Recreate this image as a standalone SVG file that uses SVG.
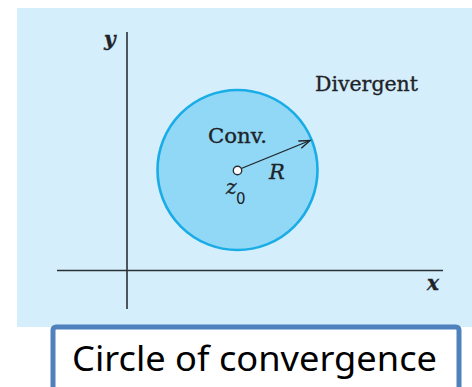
<svg xmlns="http://www.w3.org/2000/svg" width="472" height="387" viewBox="0 0 472 387">
<defs>
<style>
.ax{stroke:#2b3036;stroke-width:1.6;fill:none}
.lbl{font-family:"DejaVu Serif","Liberation Serif",serif;fill:#1e2328;stroke:#1e2328;stroke-width:0.35}
.it{font-style:italic}
</style>
<marker id="ah" markerWidth="14" markerHeight="10" refX="12" refY="5" orient="auto" markerUnits="userSpaceOnUse">
<polyline points="1,1 12,5 1,9" fill="none" stroke="#1e2328" stroke-width="1.4"/>
</marker>
</defs>
<rect width="472" height="387" fill="#ffffff"/>
<rect id="panel" x="17" y="8" width="455" height="319" fill="#d4eefb"/>
<g id="axes">
<line class="ax" x1="127" y1="32" x2="127" y2="309"/>
<line class="ax" x1="57" y1="270.5" x2="443" y2="270.5"/>
<text class="lbl it" x="104" y="46" font-size="20" font-weight="bold">y</text>
<text class="lbl it" x="427" y="290" font-size="20" font-weight="bold">x</text>
</g>
<g id="disk">
<circle cx="237.5" cy="170" r="80" fill="#90d8f6" stroke="#19ace6" stroke-width="2.6"/>
<text class="lbl" x="208" y="143" font-size="20" textLength="59" lengthAdjust="spacingAndGlyphs">Conv.</text>
</g>
<g id="connectors">
<line x1="240" y1="169" x2="310" y2="140.5" stroke="#1e2328" stroke-width="1.3" marker-end="url(#ah)"/>
</g>
<g id="center">
<circle cx="237.5" cy="170.5" r="4.2" fill="#ffffff" stroke="#2b3036" stroke-width="1.4"/>
<text class="lbl it" x="269" y="179" font-size="21">R</text>
<text class="lbl it" x="226" y="194" font-size="20">z</text>
<text x="236" y="204" font-size="15" font-family="DejaVu Sans, sans-serif" fill="#1e2328">0</text>
</g>
<g id="divergent">
<text class="lbl" x="315" y="91" font-size="21" textLength="103" lengthAdjust="spacingAndGlyphs">Divergent</text>
</g>
<g id="caption">
<rect x="53" y="327" width="406" height="70" rx="3" fill="#ffffff" stroke="#4f81bd" stroke-width="5"/>
<text x="72" y="371" font-size="35" font-family="Noto Sans, DejaVu Sans, sans-serif" fill="#000000" textLength="365" lengthAdjust="spacingAndGlyphs">Circle of convergence</text>
</g>
</svg>
